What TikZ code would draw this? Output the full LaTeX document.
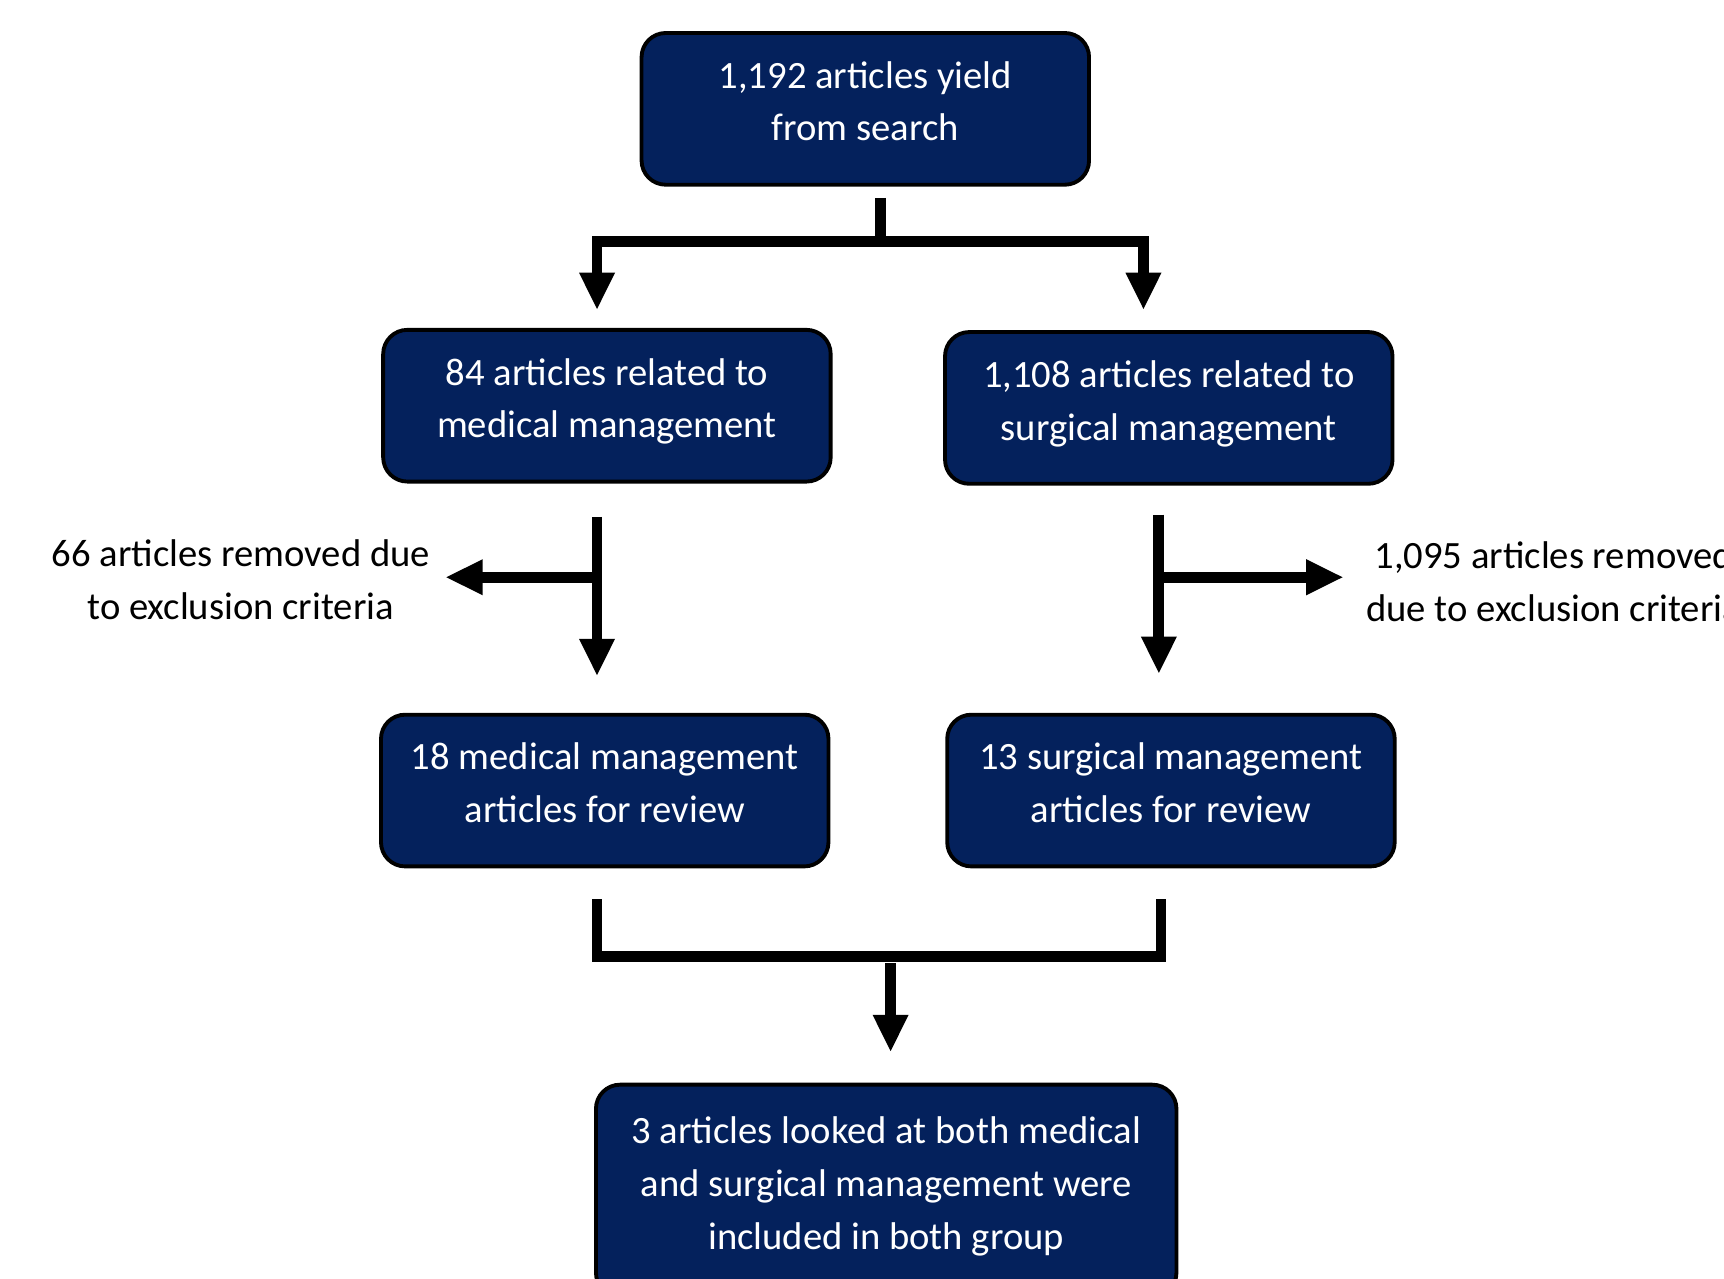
\documentclass[tikz,border=0pt]{standalone}
\usepackage{fontspec}
\setmainfont{Carlito}
\usetikzlibrary{arrows.meta}

\definecolor{navy}{RGB}{4,33,92}

\begin{document}
\begin{tikzpicture}[
        box/.style={rectangle, rounded corners=0.22cm, minimum width=4.07cm, minimum height=1.38cm, text depth=0.14cm, align=center, draw=black, line width=1pt, fill=navy, text=white, font=\fontsize{10}{13.66}\selectfont},
        note/.style={align=center, font=\fontsize{10}{13.66}\selectfont},
        link/.style={line width=2.8pt, line join=miter},
        arrow/.style={link, -{Triangle[width=0.30cm, length=0.34cm]}}
    ]
    \useasboundingbox (0,0) rectangle (15.68,-11.63);

    % Row 1: Search
    \node (search) [box] at (7.87,-0.99) {1,192 articles yield\\from search};

    % Row 2: Management groups
    \node (medical) [box] at (5.52,-3.69) {84 articles related to\\medical management};
    \node (surgical) [box] at (10.63,-3.71) {1,108 articles related to\\surgical management};

    % Exclusions
    \node (medexcl) [note] at (2.19,-5.27) {66 articles removed due\\to exclusion criteria};
    \node (surgexcl) [note] at (14.13,-5.29) {1,095 articles removed\\due to exclusion criteria};

    % Row 3: Articles for review
    \node (medreview) [box] at (5.50,-7.19) {18 medical management\\articles for review};
    \node (surgreview) [box] at (10.65,-7.19) {13 surgical management\\articles for review};

    % Row 4: Overlap
    \node (both) [box, minimum width=5.28cm, minimum height=1.93cm] at (8.06,-10.83) {3 articles looked at both medical\\and surgical management were\\included in both group};

    % Connector points
    \coordinate (searchout) at (8.01,-1.80);
    \coordinate (searchbar) at (8.01,-2.20);
    \coordinate (medin) at (5.43,-2.82);
    \coordinate (surgin) at (10.40,-2.82);
    \coordinate (medout) at (5.43,-4.70);
    \coordinate (medsplit) at (5.43,-5.25);
    \coordinate (medexclin) at (4.05,-5.25);
    \coordinate (medrevin) at (5.43,-6.15);
    \coordinate (surgout) at (10.54,-4.68);
    \coordinate (surgsplit) at (10.54,-5.25);
    \coordinate (surgexclin) at (12.22,-5.25);
    \coordinate (surgrevin) at (10.54,-6.13);
    \coordinate (medrevout) at (5.43,-8.18);
    \coordinate (surgrevout) at (10.56,-8.18);
    \coordinate (joinbar) at (8.10,-8.70);
    \coordinate (joinout) at (8.10,-8.76);
    \coordinate (bothin) at (8.10,-9.57);

    % Arrows: Row 1 to Row 2
    \draw [link] (searchout) -- (searchbar);
    \draw [arrow] (searchbar) -| (medin);
    \draw [arrow] (searchbar) -| (surgin);

    % Arrows: Row 2 to Row 3
    \draw [arrow] (medout) -- (medrevin);
    \draw [arrow] (medsplit) -- (medexclin);
    \draw [arrow] (surgout) -- (surgrevin);
    \draw [arrow] (surgsplit) -- (surgexclin);

    % Arrows: Row 3 to Row 4
    \draw [link] (medrevout) |- (joinbar) -| (surgrevout);
    \draw [arrow] (joinout) -- (bothin);
\end{tikzpicture}
\end{document}
